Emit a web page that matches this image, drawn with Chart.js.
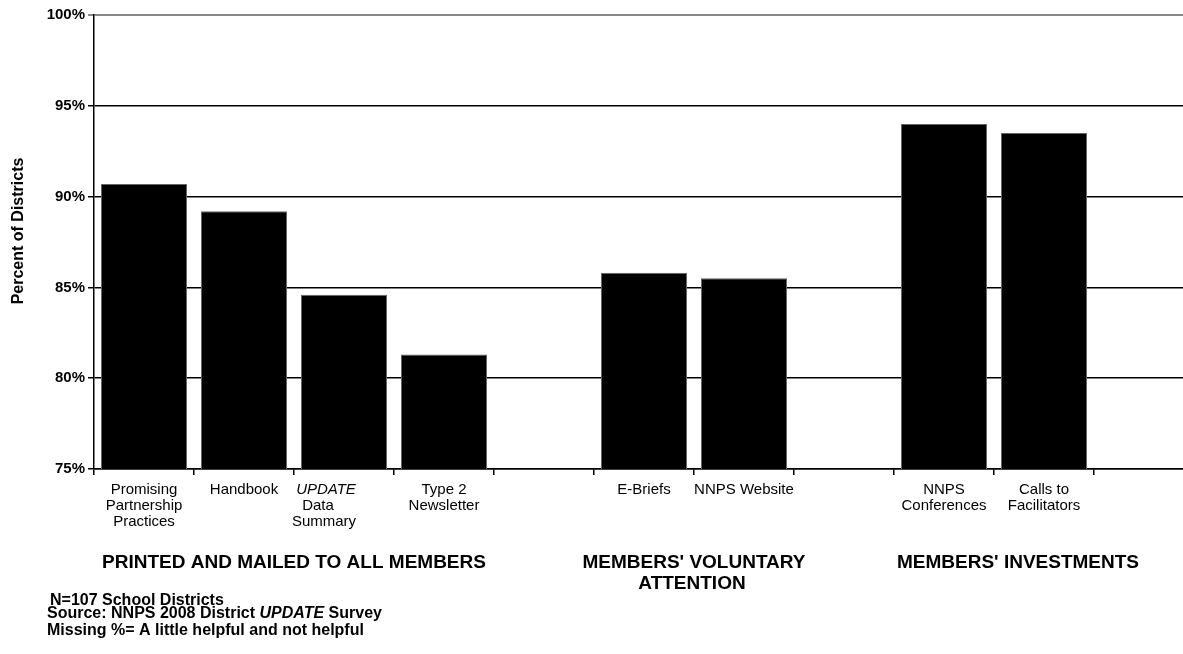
<!DOCTYPE html>
<html>
<head>
<meta charset="utf-8">
<title>Helpfulness of NNPS resources</title>
<script src="https://cdn.jsdelivr.net/npm/chart.js@4.4.1/dist/chart.umd.min.js"></script>
<style>
  html, body { margin: 0; padding: 0; background: #fff; overflow: hidden; }
  #wrap { width: 1183px; height: 654px; overflow: hidden; position: relative; }
</style>
</head>
<body>
<div id="wrap"><canvas id="chart" width="1200" height="654"></canvas></div>
<script>
// x axis slots; empty strings are the spacer slots between the groups
const categories = [
    ['Promising', 'Partnership', 'Practices'],
    'Handbook',
    ['UPDATE', 'Data', 'Summary'],
    ['Type 2', 'Newsletter'],
    '',
    'E-Briefs',
    'NNPS Website',
    '',
    ['NNPS', 'Conferences'],
    ['Calls to', 'Facilitators'],
    ''
];

// percent of districts rating each resource helpful
const percentValues = [90.7, 89.2, 84.6, 81.3, null, 85.8, 85.5, null, 94.0, 93.5, null];

// y axis range and tick step (percent)
const yMin = 75;
const yMax = 100;
const yStep = 5;

// captions under the axis, and the first/last slot each one spans
const groupNames = [
    ['PRINTED AND MAILED TO ALL MEMBERS'],
    ["MEMBERS' VOLUNTARY", 'ATTENTION'],
    ["MEMBERS' INVESTMENTS"]
];
const groupSlots = [[0, 3], [5, 6], [8, 9]];

const FONT = '"Liberation Sans", Arial, sans-serif';
const ITALIC_SLOT = 2;   // the UPDATE label has an italic first line

const captionsPlugin = {
    id: 'captions',
    afterDraw(chart) {
        const ctx = chart.ctx;
        const xs = chart.scales.x;
        const area = chart.chartArea;
        const labelTop = area.bottom + 6 + 7;

        ctx.save();
        ctx.fillStyle = '#000';
        ctx.textBaseline = 'middle';
        ctx.textAlign = 'center';

        // y axis title, a little above the middle of the axis
        ctx.save();
        ctx.translate(19, (area.top + area.bottom) / 2 - 11);
        ctx.rotate(-Math.PI / 2);
        ctx.font = 'bold 16px ' + FONT;
        ctx.fillText('Percent of Districts', 0, 0);
        ctx.restore();

        // "UPDATE Data Summary" label, sits a bit left of its slot centre
        const lines = categories[ITALIC_SLOT];
        const cx = xs.getPixelForValue(ITALIC_SLOT) - 20;
        lines.forEach((t, i) => {
            ctx.font = (i === 0 ? 'italic ' : '') + '15px ' + FONT;
            ctx.fillText(t, cx + (i === 0 ? 2 : (i === 1 ? -6 : 0)), labelTop + 8 + i * 16);
        });

        // group captions
        ctx.font = 'bold 19px ' + FONT;
        groupNames.forEach((names, g) => {
            const [a, b] = groupSlots[g];
            const gx = (xs.getPixelForValue(a) + xs.getPixelForValue(b)) / 2;
            names.forEach((t, i) => ctx.fillText(t, gx + (g === 2 ? 24 : 0) - (i === 1 ? 2 : 0), 563 + i * 21));
        });

        // footnotes
        ctx.textAlign = 'left';
        ctx.font = 'bold 16px ' + FONT;
        ctx.fillText('N=107 School Districts', 50, 601);

        let x = 47;
        const parts = [['Source: NNPS 2008 District ', ''], ['UPDATE', 'italic '], [' Survey', '']];
        parts.forEach(([t, style]) => {
            ctx.font = style + 'bold 16px ' + FONT;
            ctx.fillText(t, x, 614);
            x += ctx.measureText(t).width;
        });

        ctx.font = 'bold 16px ' + FONT;
        ctx.fillText('Missing %= A little helpful and not helpful', 47, 631);
        ctx.restore();
    }
};

const chart = new Chart(document.getElementById('chart').getContext('2d'), {
    type: 'bar',
    data: {
        labels: categories,
        datasets: [{
            label: 'Percent of Districts',
            data: percentValues,
            backgroundColor: '#000',
            borderColor: '#666',
            borderWidth: 1,
            borderSkipped: 'bottom',
            categoryPercentage: 1.0,
            barPercentage: 0.86
        }]
    },
    options: {
        responsive: false,
        animation: false,
        layout: { padding: { top: 15, right: 6, left: 0, bottom: 0 } },
        plugins: {
            legend: { display: false },
            tooltip: { enabled: false }
        },
        scales: {
            x: {
                offset: true,
                grid: {
                    offset: true,
                    drawOnChartArea: false,
                    drawTicks: true,
                    tickLength: 6,
                    color: '#000',
                    lineWidth: 1.5
                },
                border: { display: true, color: '#000', width: 1.5 },
                ticks: {
                    autoSkip: false,
                    maxRotation: 0,
                    padding: 7,
                    color: '#000',
                    font: { family: FONT, size: 15, lineHeight: 16 / 15 },
                    callback: (value, index) => index === ITALIC_SLOT ? '' : categories[index]
                },
                afterFit: (scale) => { scale.height = 654 - 469; }
            },
            y: {
                min: yMin,
                max: yMax,
                ticks: {
                    stepSize: yStep,
                    padding: 3,
                    color: '#000',
                    font: { family: FONT, size: 15, weight: 'bold' },
                    callback: (v) => v + '%'
                },
                grid: {
                    tickLength: 6,
                    lineWidth: (c) => (c.tick && c.tick.value === yMax) ? 2 : 1.5,
                    color: (c) => (c.tick && c.tick.value === yMax) ? '#888' : '#000'
                },
                border: { display: true, color: '#000', width: 1.5 },
                afterFit: (scale) => { scale.width = 94; }
            }
        }
    },
    plugins: [captionsPlugin]
});
</script>
</body>
</html>
